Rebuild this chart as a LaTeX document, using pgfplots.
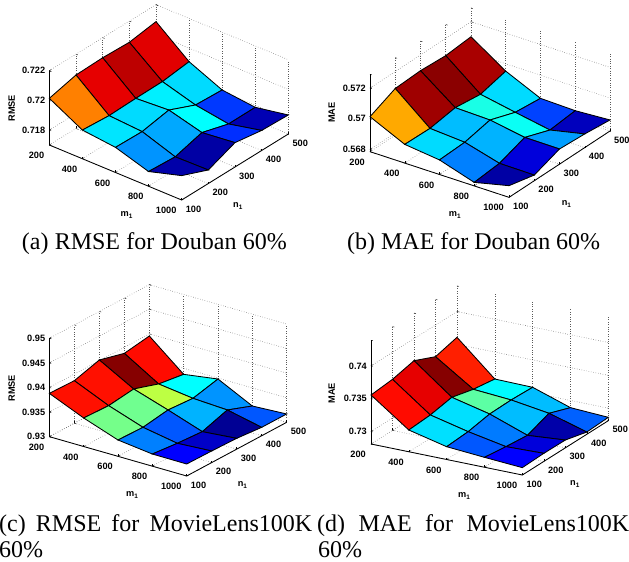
\documentclass[border=0pt]{standalone}
\usepackage{pgfplots}
\pgfplotsset{compat=1.18}
\usepackage{pgfplotstable}
\usepackage{fontspec}
\setmainfont{Liberation Serif}
\newfontfamily\hv{Liberation Sans}
\pgfplotstableread{
x y z c
200 100 .72014 .75
400 100 .71893 .35
600 100 .71869 .27
800 100 .71799 .04
1000 100 .71864 .04
200 200 .72060 .90
400 200 .71879 .34
600 200 .71864 .29
800 200 .71787 .035
1000 200 .71791 .035
200 300 .72065 .94
400 300 .71884 .36
600 300 .71898 .375
800 300 .71839 .17
1000 300 .71864 .17
200 400 .72058 .905
400 400 .71886 .34
600 400 .71821 .18
800 400 .71786 .05
1000 400 .71835 .05
200 500 .72086 .905
400 500 .71909 .34
600 500 .71811 .18
800 500 .71787 .05
1000 500 .71828 .05
}\dataA
\pgfplotstableread{
x y z c
200 100 .57013 .71
400 100 .56907 .34
600 100 .56880 .25
800 100 .56808 .035
1000 100 .56861 .035
200 200 .57089 .97
400 200 .56903 .31
600 200 .56887 .30
800 200 .56824 .09
1000 200 .56822 .09
200 300 .57097 .99
400 300 .56930 .40
600 300 .56924 .385
800 300 .56885 .28
1000 300 .56884 .28
200 400 .57087 .96
400 400 .56909 .34
600 400 .56866 .19
800 400 .56825 .06
1000 400 .56874 .06
200 500 .57102 .96
400 500 .56952 .34
600 500 .56849 .19
800 500 .56843 .06
1000 500 .56857 .06
}\dataB
\pgfplotstableread{
x y z c
200 100 .93881 .86
400 100 .93580 .49
600 100 .93332 .25
800 100 .93247 .125
1000 100 .93244 .125
200 200 .93866 .86
400 200 .93558 .485
600 200 .93317 .21
800 200 .93192 .07
1000 200 .93236 .07
200 300 .94014 .995
400 300 .93624 .56
600 300 .93397 .30
800 300 .93156 .02
1000 300 .93220 .02
200 400 .93876 .865
400 400 .93453 .375
600 400 .93361 .27
800 400 .93324 .21
1000 400 .93171 .21
200 500 .93956 .865
400 500 .93376 .375
600 500 .93481 .27
800 500 .93132 .21
1000 500 .93170 .21
}\dataC
\pgfplotstableread{
x y z c
200 100 .73556 .865
400 100 .73141 .345
600 100 .73005 .21
800 100 .72961 .125
1000 100 .72922 .125
200 200 .73588 .90
400 200 .73163 .345
600 200 .73027 .245
800 200 .72917 .09
1000 200 .72933 .09
200 300 .73665 .995
400 300 .73225 .465
600 300 .73089 .31
800 300 .72882 .04
1000 300 .72929 .04
200 400 .73519 .845
400 400 .73140 .37
600 400 .73096 .31
800 400 .73011 .22
1000 400 .72844 .22
200 500 .73607 .845
400 500 .73090 .37
600 500 .73082 .31
800 500 .72890 .22
1000 500 .72861 .22
}\dataD
\pgfplotsset{colormap={mjet}{rgb255=(0,0,128) rgb255=(0,0,255) rgb255=(0,128,255) rgb255=(0,255,255) rgb255=(128,255,128) rgb255=(255,255,0) rgb255=(255,128,0) rgb255=(255,0,0) rgb255=(128,0,0)}}
\pgfplotsset{panel/.style={
  anchor=origin, clip=false,
  xmin=200,xmax=1000,ymin=100,ymax=500,
  xtick={200,400,600,800,1000},ytick={100,200,300,400,500},
  xticklabels={200,400,600,800,1000},yticklabels={100,200,300,400,500},
  xtick pos=left,ytick pos=left,ztick pos=left,
  /pgf/number format/assume math mode=true,
  tick label style={font=\hv\fontsize{9.2}{10}\selectfont\bfseries},
  xticklabel style={anchor=north east,xshift=-5pt,yshift=-7pt,inner sep=0pt},
  yticklabel style={anchor=north west,xshift=4pt,yshift=-5.5pt,inner sep=0pt},
  zticklabel style={anchor=east,xshift=-4pt,inner sep=0pt},
  grid=major, grid style={dotted,black!65,line width=.6pt},
  axis line style={draw=none},
  tick style={black,line width=.4pt},
  major tick length=2pt,
  colormap name=mjet, point meta min=0, point meta max=1,
}}
\newcommand\surface[1]{%
 \addplot3[surf,shader=flat corner,draw=black,line width=.85pt,z buffer=sort,mesh/rows=5,mesh/cols=5,
   point meta=\thisrow{c}] table[x=x,y=y,z=z] {#1};}
\newcommand\frameaxes[2]{%
 \addplot3[black,line width=.85pt,no marks] coordinates {(200,100,#2) (200,100,#1)};
 \addplot3[black,line width=.85pt,no marks] coordinates {(200,100,#1) (1000,100,#1) (1000,500,#1)};}
\begin{document}
\begin{tikzpicture}[x=1pt,y=1pt]
\useasboundingbox (0,0) rectangle (629,562);
% (a)
\begin{axis}[panel,at={(49.33pt,417pt)},
  x={(0.1654pt,-0.06875pt)},y={(0.2667pt,0.165pt)},z={(0pt,14867pt)},
  zmin=.717,zmax=.722,ztick={.718,.72,.722},zticklabels={0.718,0.72,0.722}]
\surface{\dataA}
\frameaxes{.717}{.722}
\end{axis}
% (b)
\begin{axis}[panel,at={(370pt,410.33pt)},
  x={(0.17375pt,-0.05708pt)},y={(0.2525pt,0.16583pt)},z={(0pt,15333pt)},
  zmin=.56785,zmax=.5729,ztick={.568,.57,.572},zticklabels={0.568,0.57,0.572}]
\surface{\dataB}
\frameaxes{.56785}{.5729}
\end{axis}
% (c)
\begin{axis}[panel,at={(49.33pt,125.33pt)},
  x={(0.17167pt,-0.04917pt)},y={(0.25pt,0.13417pt)},z={(0pt,4917pt)},
  zmin=.93,zmax=.95,ztick={.93,.935,.94,.945,.95},zticklabels={0.93,0.935,0.94,0.945,0.95}]
\surface{\dataC}
\frameaxes{.93}{.95}
\end{axis}
% (d)
\begin{axis}[panel,at={(371pt,118pt)},
  x={(0.18917pt,-0.03875pt)},y={(0.215pt,0.13583pt)},z={(0pt,6567pt)},
  zmin=.7281,zmax=.7439,ztick={.73,.735,.74},zticklabels={0.73,0.735,0.74}]
\surface{\dataD}
\frameaxes{.7281}{.7439}
\end{axis}
\tikzset{al/.style={font=\hv\fontsize{9.2}{10}\selectfont\bfseries,inner sep=0pt},
 captxt/.style={anchor=base west,inner sep=0pt,font=\fontsize{24}{26}\selectfont}}
\node[al,rotate=90] at (11.7,453.7) {RMSE};
\node[al] at (126.7,347) {m\textsubscript{1}};
\node[al] at (238,356) {n\textsubscript{1}};
\node[al,rotate=90] at (331.7,449.3) {MAE};
\node[al] at (455,347) {m\textsubscript{1}};
\node[al] at (566.7,358) {n\textsubscript{1}};
\node[al,rotate=90] at (11.7,173.7) {RMSE};
\node[al] at (132.3,67) {m\textsubscript{1}};
\node[al] at (242.7,77) {n\textsubscript{1}};
\node[al,rotate=90] at (331.7,168.7) {MAE};
\node[al] at (464.3,66) {m\textsubscript{1}};
\node[al] at (575,78) {n\textsubscript{1}};
\node[captxt] at (21.7,312) {\makebox[265pt][s]{(a) RMSE for Douban 60\%}};
\node[captxt] at (347,312) {\makebox[253pt][s]{(b) MAE for Douban 60\%}};
\node[captxt] at (-1,30) {\makebox[313pt][s]{(c) RMSE for MovieLens100K}};
\node[captxt] at (-1,4) {60\%};
\node[captxt] at (317,30) {\makebox[312pt][s]{(d) MAE for MovieLens100K}};
\node[captxt] at (318,4) {60\%};
\end{tikzpicture}
\end{document}
